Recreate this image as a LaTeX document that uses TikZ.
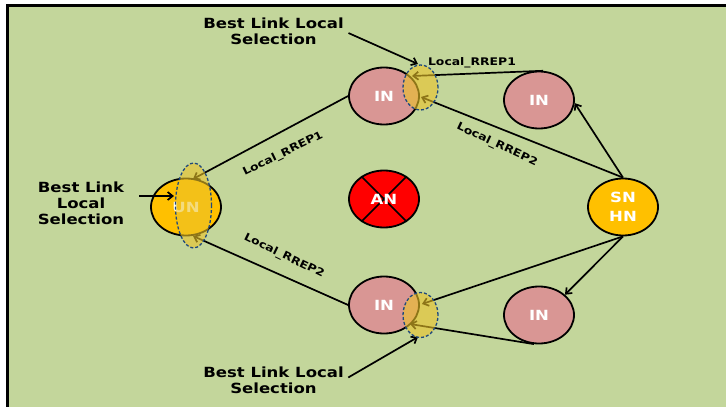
\documentclass[tikz,border=0pt]{standalone}
\usepackage{fontspec}
\setmainfont{DejaVu Sans}[FakeStretch=1.18]
\usetikzlibrary{shapes.geometric,arrows.meta}
\definecolor{bgc}{HTML}{C3D69B}
\definecolor{pinkn}{HTML}{D99694}
\definecolor{orn}{HTML}{FFC000}
\definecolor{redn}{HTML}{FF0000}
\definecolor{hlc}{HTML}{EBC328}
\definecolor{hlb}{HTML}{1F497D}
\begin{document}
\begin{tikzpicture}[x=1pt,y=-1pt,
  nd/.style={ellipse, draw=black, line width=1.8pt, minimum width=70pt, minimum height=57pt,
    inner sep=0pt, text=white, font=\bfseries\fontsize{14}{19}\selectfont, align=center},
  innode/.style={nd, fill=pinkn},
  ornode/.style={nd, fill=orn},
  rednode/.style={nd, fill=redn},
  hlell/.style={ellipse, draw=hlb, dash pattern=on 3pt off 2pt, line width=1.3pt,
    fill=hlc, fill opacity=0.6, inner sep=0pt},
  lbl/.style={font=\bfseries\fontsize{14}{16}\selectfont, align=center, inner sep=0pt},
  small/.style={font=\bfseries\fontsize{10.5}{12}\selectfont, inner sep=0pt},
  arr/.style={line width=1.7pt, -{Straight Barb[length=5pt,width=8pt]}},
  frame/.style={line width=3pt, black}
]
\useasboundingbox (0,0) rectangle (726,407);
\fill[bgc] (7,5) rectangle (726,407);
\draw[frame] (7.5,407) -- (7.5,5.5) -- (726,5.5);

% nodes
\node[ornode] (UN) at (186,207) {UN};
\node[innode] (tIN) at (384,96) {IN};
\node[innode] (rIN) at (539,100) {IN};
\node[rednode] (AN) at (384,199) {};
\draw[line width=1.6pt] (AN.135) -- (AN.-45) (AN.45) -- (AN.-135);
\node[text=white, font=\bfseries\fontsize{14}{19}\selectfont, inner sep=0pt] (ANt) at (AN.center) {AN};
\node[ornode] (SN) at (623,207) {SN\\HN};
\node[innode] (bIN) at (384,305) {IN};
\node[innode] (brIN) at (539,315) {IN};

% arrow tip coordinates
\coordinate (tipUNt) at (193,179);
\coordinate (tipUNb) at (193,236);
\coordinate (tipTa) at (421,97);
\coordinate (tipTb) at (412,76);
\coordinate (tipBa) at (422,304);
\coordinate (tipBb) at (410,324);
\coordinate (tipHT) at (418,64);
\coordinate (tipHB) at (418,337);
\coordinate (tipHL) at (174,196);

% connectors
\draw[arr] (tIN.west) -- (tipUNt);
\draw[arr] (bIN.west) -- (tipUNb);
\draw[arr] (SN.north) -- (tipTa);
\draw[arr] (rIN.82) -- (tipTb);
\draw[arr] (SN.north) -- (rIN.-5);
\draw[arr] (SN.south) -- (tipBa);
\draw[arr] (SN.south) -- (brIN.38);
\draw[arr] (brIN.-100) -- (tipBb);

% labels
\node[lbl] (bT) at (273.5,31) {Best Link Local\\Selection};
\node[lbl] (bB) at (273.5,380) {Best Link Local\\Selection};
\node[lbl] (bL) at (81,203) {Best Link\\Local\\Selection};
\draw[arr, shorten <=5pt] (bT.east) -- (tipHT);
\draw[arr, shorten <=5pt] (bB.east) -- (tipHB);
\draw[arr] ([xshift=15pt]bL.east |- tipHL) -- (tipHL);

\node[small] (r1t) at (472,63) {Local\_RREP1};
\node[small, rotate=26] (r1l) at (283,154) {Local\_RREP1};
\node[small, rotate=-25] (r2t) at (497,145) {Local\_RREP2};
\node[small, rotate=-26] (r2l) at (284,256) {Local\_RREP2};

% highlight ellipses
\node[hlell, minimum width=35pt, minimum height=45pt] (hT) at (420.5,87.5) {};
\node[hlell, minimum width=35pt, minimum height=45pt] (hB) at (420.5,315) {};
\node[hlell, minimum width=36pt, minimum height=85pt] (hL) at (193.5,205.5) {};
\end{tikzpicture}
\end{document}
